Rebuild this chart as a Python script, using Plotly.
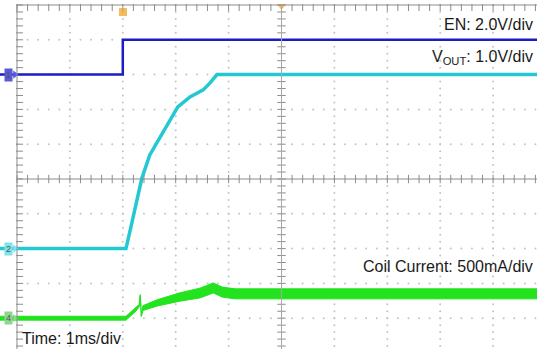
import numpy as np
import plotly.graph_objects as go

# ---- data (time in ms, 1 ms/div, 0 = screen centre) ----
en_time = [-5.4, -3.0, -3.0, 5.0]
en_volts = [0.0, 0.0, 2.0, 2.0]

vout_time = [-5.4, -2.94, -2.86, -2.74, -2.64, -2.49, -2.30, -2.11, -1.96, -1.73, -1.48, -1.35, -1.22, 5.0]
vout_volts = [0.0, 0.0, 0.53, 1.40, 2.02, 2.69, 3.18, 3.70, 4.07, 4.36, 4.56, 4.76, 5.0, 5.0]

coil_time = [-5.4, -2.94, -2.75, -2.69, -2.67, -2.65, -2.62, -2.35, -1.92, -1.54, -1.29, -1.12, -0.88, 5.0]
coil_ma = [0, 0, 130, 180, 330, 30, 145, 220, 305, 362, 435, 375, 350, 350]
coil_ripple_ma = [28, 28, 28, 18, 8, 8, 35, 45, 60, 70, 72, 72, 72, 72]

# channel scale (units/div) and offset (div)
EN_SCALE, EN_OFF = 2.0, 3.0
VOUT_SCALE, VOUT_OFF = 1.0, -2.0
COIL_SCALE, COIL_OFF = 500.0, -4.0

labels = {
    "en": "EN: 2.0V/div",
    "vout": "V<sub>OUT</sub>: 1.0V/div",
    "coil": "Coil Current: 500mA/div",
    "time": "Time: 1ms/div",
}

# ---- screen geometry ----
PX_X = 52.9   # px per div horizontally
PX_Y = 34.8   # px per div vertically
CX, CY = 281.5, 179.0
W, H = 537, 349
xr = [(0 - CX) / PX_X, (W - CX) / PX_X]
yr = [(CY - H) / PX_Y, (CY - 0) / PX_Y]

def px2x(p):
    return (p - CX) / PX_X

def py2y(p):
    return (CY - p) / PX_Y

fig = go.Figure()

GRID = "#c4c4c4"
AXC = "#8c8c8c"

# dotted graticule
gx, gy = [], []
for i in range(-4, 6):
    if i == 0:
        continue
    for k in range(-25, 26):
        gx.append(i); gy.append(k * 0.2)
for j in range(-4, 5):
    if j == 0:
        continue
    for k in range(-25, 26):
        gx.append(k * 0.2); gy.append(j)
fig.add_trace(go.Scatter(x=gx, y=gy, mode="markers",
                         marker=dict(size=2, color=GRID, line=dict(width=0)),
                         hoverinfo="skip", showlegend=False))

# solid frame / centre lines
shapes = [
    dict(type="line", x0=-5, x1=xr[1] + 1, y0=5, y1=5, line=dict(color=AXC, width=1)),
    dict(type="line", x0=-5, x1=-5, y0=yr[0] - 1, y1=5, line=dict(color=AXC, width=1)),
    dict(type="line", x0=-5, x1=xr[1] + 1, y0=0, y1=0, line=dict(color=AXC, width=1)),
    dict(type="line", x0=0, x1=0, y0=yr[0] - 1, y1=5, line=dict(color="#a8a8a8", width=1)),
]

# tick marks on centre lines and frame
tk = np.arange(-25, 26) * 0.2
fig.add_trace(go.Scatter(x=tk, y=[0] * len(tk), mode="markers",
                         marker=dict(symbol="line-ns", size=6, line=dict(color=AXC, width=1)),
                         hoverinfo="skip", showlegend=False))
fig.add_trace(go.Scatter(x=[0] * len(tk), y=tk, mode="markers",
                         marker=dict(symbol="line-ew", size=6, line=dict(color=AXC, width=1)),
                         hoverinfo="skip", showlegend=False))
fig.add_trace(go.Scatter(x=[-5 + 2.5 / PX_X] * len(tk), y=tk, mode="markers",
                         marker=dict(symbol="line-ew", size=5, line=dict(color=AXC, width=1)),
                         hoverinfo="skip", showlegend=False))
fig.add_trace(go.Scatter(x=tk, y=[5 - 2.5 / PX_Y] * len(tk), mode="markers",
                         marker=dict(symbol="line-ns", size=5, line=dict(color=AXC, width=1)),
                         hoverinfo="skip", showlegend=False))

# ---- waveforms ----
EN_C = "#1c1cc4"
VOUT_C = "#22c8d2"
COIL_C = "#22e31e"

coil_c = np.array(coil_ma, float)
coil_r = np.array(coil_ripple_ma, float)
fig.add_trace(go.Scatter(x=coil_time, y=COIL_OFF + (coil_c - coil_r) / COIL_SCALE,
                         mode="lines", line=dict(color=COIL_C, width=1),
                         hoverinfo="skip", showlegend=False))
fig.add_trace(go.Scatter(x=coil_time, y=COIL_OFF + (coil_c + coil_r) / COIL_SCALE,
                         mode="lines", line=dict(color=COIL_C, width=1), fill="tonexty",
                         fillcolor=COIL_C, hoverinfo="skip", showlegend=False))

fig.add_trace(go.Scatter(x=vout_time, y=VOUT_OFF + np.array(vout_volts) / VOUT_SCALE,
                         mode="lines", line=dict(color=VOUT_C, width=3.5),
                         hoverinfo="skip", showlegend=False))
fig.add_trace(go.Scatter(x=en_time, y=EN_OFF + np.array(en_volts) / EN_SCALE,
                         mode="lines", line=dict(color=EN_C, width=2.5),
                         hoverinfo="skip", showlegend=False))

# orange trigger markers
fig.add_trace(go.Scatter(x=[px2x(123), 0], y=[py2y(12), py2y(6)], mode="markers",
                         marker=dict(symbol=["square", "triangle-down"], size=[8, 8],
                                     color="#f0a020", line=dict(width=0)),
                         hoverinfo="skip", showlegend=False))

# channel marker pointers
fig.add_trace(go.Scatter(x=[px2x(15)] * 3, y=[EN_OFF, VOUT_OFF, COIL_OFF], mode="markers",
                         marker=dict(symbol="triangle-right", size=7,
                                     color=["#5a5ad6", "#80e2ea", "#8fd68f"], line=dict(width=0)),
                         hoverinfo="skip", showlegend=False))

annotations = []
font = dict(family="Arial, Liberation Sans, sans-serif", size=16, color="#1a1a1a")
annotations.append(dict(x=px2x(535), y=py2y(24), xref="x", yref="y", text=labels["en"],
                        showarrow=False, xanchor="right", yanchor="middle", font=font))
annotations.append(dict(x=px2x(535), y=py2y(57), xref="x", yref="y", text=labels["vout"],
                        showarrow=False, xanchor="right", yanchor="middle", font=font))
annotations.append(dict(x=px2x(535), y=py2y(266), xref="x", yref="y", text=labels["coil"],
                        showarrow=False, xanchor="right", yanchor="middle", font=font))
annotations.append(dict(x=px2x(20), y=py2y(338), xref="x", yref="y", text=labels["time"],
                        showarrow=False, xanchor="left", yanchor="middle", font=font))

# channel markers at the left edge
for num, off, bg in [("1", EN_OFF, "#5a5ad6"), ("2", VOUT_OFF, "#80e2ea"), ("4", COIL_OFF, "#8fd68f")]:
    annotations.append(dict(x=px2x(8), y=off, xref="x", yref="y", text=num, showarrow=False,
                            xanchor="center", yanchor="middle", bgcolor=bg, borderpad=1,
                            font=dict(family="Arial", size=9, color="#555555")))

fig.update_layout(
    width=W, height=H, margin=dict(l=0, r=0, t=0, b=0),
    paper_bgcolor="white", plot_bgcolor="white",
    xaxis=dict(range=xr, visible=False, fixedrange=True),
    yaxis=dict(range=yr, visible=False, fixedrange=True),
    shapes=shapes, annotations=annotations, showlegend=False,
)

fig.write_html("out.html", config={"displayModeBar": False},
               post_script="document.body.style.margin='0px';document.body.style.overflow='hidden';")
